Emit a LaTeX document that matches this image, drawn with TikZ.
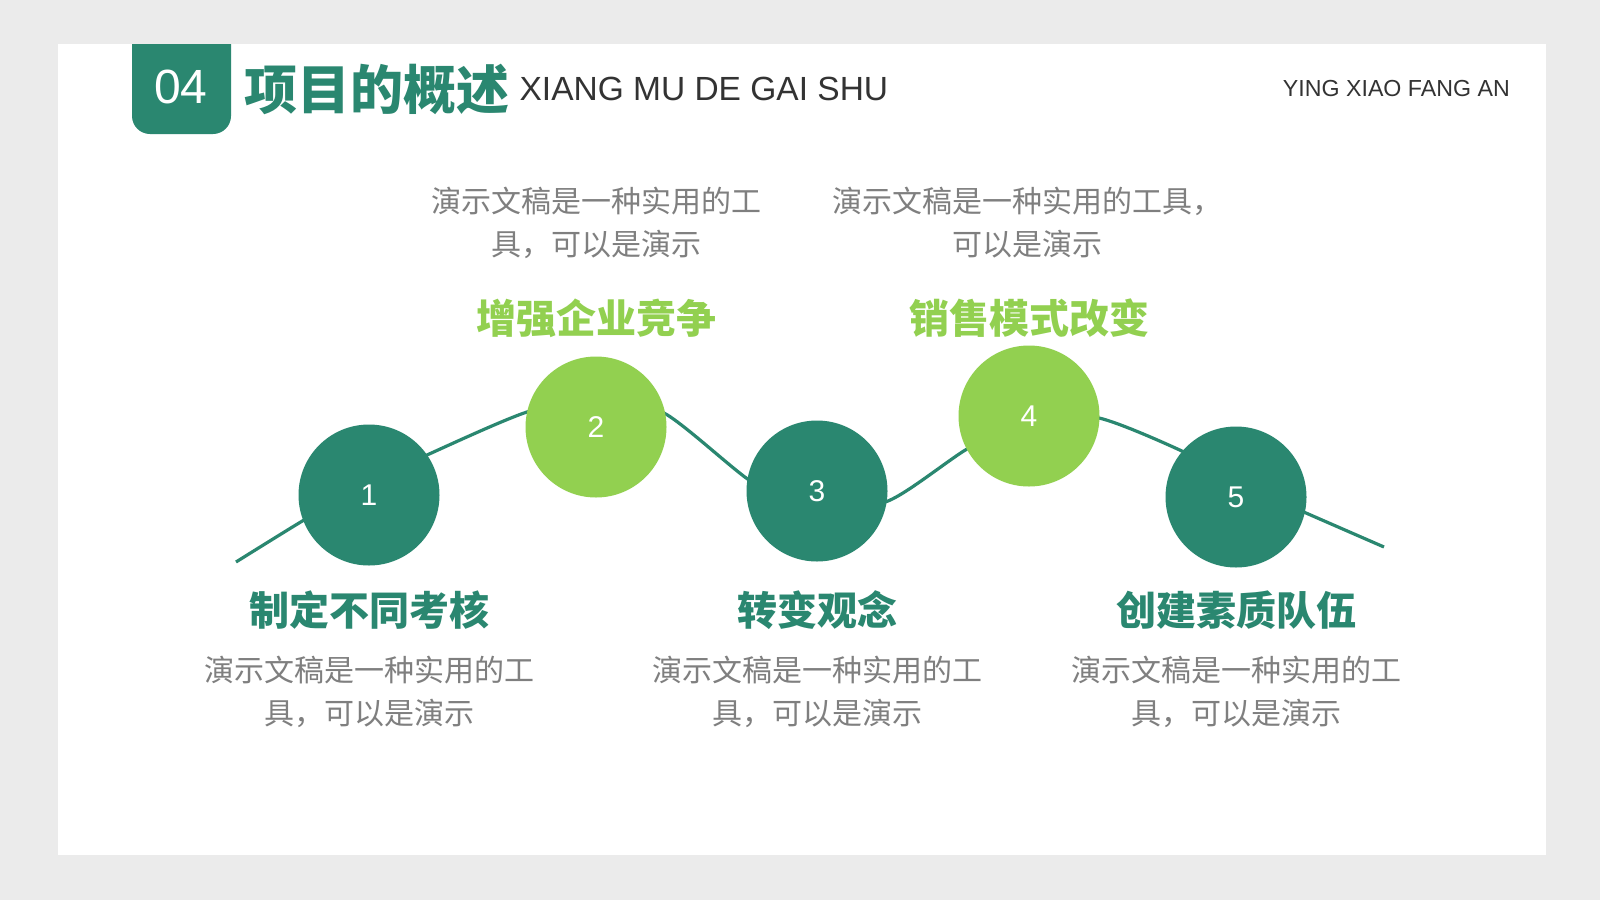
\documentclass[tikz,border=0pt]{standalone}
\usepackage{fontspec}
\setmainfont{Liberation Sans}
\newfontfamily\cjk{Noto Sans CJK SC}
\definecolor{dg}{HTML}{2A8770}
\definecolor{lg}{HTML}{92D050}
\definecolor{tg}{HTML}{7F7F7F}
\definecolor{bgc}{HTML}{EBEBEB}
\definecolor{hd}{HTML}{333333}
\tikzset{
  dot/.style={circle, minimum size=141pt, inner sep=0pt, text=white, font=\fontsize{30}{30}\selectfont},
  ttl/.style={font=\cjk\bfseries\fontsize{40}{40}\selectfont},
  desc/.style={font=\cjk\fontsize{30}{43}\selectfont, text=tg, align=center, inner sep=0pt},
  curve/.style={draw=dg, line width=3.2pt}
}
\begin{document}
\begin{tikzpicture}[x=1pt,y=-1pt]
\useasboundingbox (0,0) rectangle (1600,900);
\fill[bgc] (0,0) rectangle (1600,900);
\fill[white] (58,44) rectangle (1546,855);
\begin{scope}
\clip (58,44) rectangle (1546,855);
\fill[dg, rounded corners=18pt] (132,20) rectangle (231,134);
\end{scope}
\node[text=white, font=\fontsize{48}{48}\selectfont] (num) at (181,87) {04};
\node[anchor=west, text=dg, inner sep=0pt, font=\cjk\bfseries\fontsize{53}{53}\selectfont] (title) at (244,89) {项目的概述};
\node[anchor=west, text=hd, inner sep=0pt, font=\fontsize{33.5}{33.5}\selectfont] (sub) at ([xshift=10pt]title.east) {XIANG MU DE GAI SHU};
\node[anchor=east, text=hd, inner sep=0pt, font=\fontsize{23.2}{23.2}\selectfont] (right) at (1510,89) {YING XIAO FANG AN};

\coordinate (s) at (236,562);
\coordinate (e) at (1384,547);
\draw[curve] plot[smooth, tension=0.45] coordinates {(236,562) (304,520) (365,485) (427,455) (527,412) (598,400) (664,413) (749,480) (810,512) (888,501) (967,449) (1030,418) (1099,418) (1184,452) (1240,484) (1306,513) (1384,547)};

\node[dot, fill=dg] (c1) at (369,495) {1};
\node[dot, fill=lg] (c2) at (596,427) {2};
\node[dot, fill=dg] (c3) at (817,491) {3};
\node[dot, fill=lg] (c4) at (1029,416) {4};
\node[dot, fill=dg] (c5) at (1236,497) {5};

\node[ttl, text=lg] (t2) at (596,318) {增强企业竞争};
\node[ttl, text=lg] (t4) at (1029,318) {销售模式改变};
\node[ttl, text=dg] (t1) at (369,610) {制定不同考核};
\node[ttl, text=dg] (t3) at (817,610) {转变观念};
\node[ttl, text=dg] (t5) at (1236,610) {创建素质队伍};

\node[desc] (d2) at (596,223) {演示文稿是一种实用的工\\具，可以是演示};
\node[desc] (d4) at (1027,223) {演示文稿是一种实用的工具，\\可以是演示};
\node[desc] (d1) at (369,692) {演示文稿是一种实用的工\\具，可以是演示};
\node[desc] (d3) at (817,692) {演示文稿是一种实用的工\\具，可以是演示};
\node[desc] (d5) at (1236,692) {演示文稿是一种实用的工\\具，可以是演示};
\end{tikzpicture}
\end{document}
